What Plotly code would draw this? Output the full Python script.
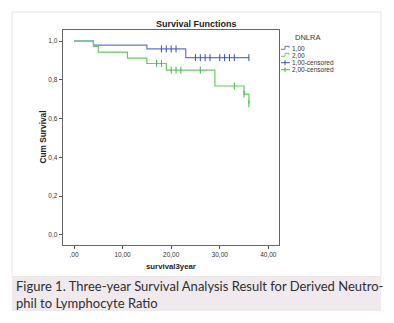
import plotly.graph_objects as go

# ---- data ----
blue_time = [0, 4, 15, 23, 36]
blue_surv = [1.0, 0.979, 0.959, 0.914, 0.914]
blue_cens_time = [18, 19, 20, 21, 25, 26, 27, 28, 30, 31, 32, 33, 36]
blue_cens_surv = [0.959, 0.959, 0.959, 0.959, 0.914, 0.914, 0.914, 0.914,
                  0.914, 0.914, 0.914, 0.914, 0.914]

green_time = [0, 4, 5, 11, 15, 19, 29, 35, 36]
green_surv = [1.0, 0.972, 0.943, 0.912, 0.884, 0.850, 0.768, 0.726, 0.676]
green_cens_time = [17, 18, 20, 21, 22, 26, 33, 35, 36]
green_cens_surv = [0.884, 0.884, 0.850, 0.850, 0.850, 0.850, 0.768, 0.726, 0.676]

x_tickvals = [0, 10, 20, 30, 40]
x_ticktext = [",00", "10,00", "20,00", "30,00", "40,00"]
y_tickvals = [0, 0.2, 0.4, 0.6, 0.8, 1.0]
y_ticktext = ["0,0", "0,2", "0,4", "0,6", "0,8", "1,0"]

legend_title = "DNLRA"
legend_labels = ["1,00", "2,00", "1,00-censored", "2,00-censored"]

W, H = 394, 323
BLUE = "#6275c4"
BLUE_M = "#3a50b0"
GREEN = "#62cc62"
GREEN_M = "#3fb83f"
FONT = "Arial, Liberation Sans, sans-serif"


def px(x):
    return x / W


def py(y):
    return 1 - y / H


fig = go.Figure()
fig.add_trace(go.Scatter(x=blue_time, y=blue_surv, mode="lines", line_shape="hv",
                         line=dict(color=BLUE, width=1.2), showlegend=False))
fig.add_trace(go.Scatter(x=green_time, y=green_surv, mode="lines", line_shape="hv",
                         line=dict(color=GREEN, width=1.2), showlegend=False))
fig.add_trace(go.Scatter(x=blue_cens_time, y=blue_cens_surv, mode="markers",
                         marker=dict(symbol="line-ns", size=5,
                                     line=dict(color=BLUE_M, width=1)),
                         showlegend=False))
fig.add_trace(go.Scatter(x=green_cens_time, y=green_cens_surv, mode="markers",
                         marker=dict(symbol="line-ns", size=5,
                                     line=dict(color=GREEN_M, width=1)),
                         showlegend=False))

shapes = [
    # chart box
    dict(type="rect", xref="paper", yref="paper", x0=px(12), x1=px(381),
         y0=py(276.5), y1=py(12), line=dict(color="#e6e6e6", width=1),
         fillcolor="white", layer="below"),
    # caption box
    dict(type="rect", xref="paper", yref="paper", x0=px(12), x1=px(381),
         y0=py(311), y1=py(276.5), line=dict(width=0),
         fillcolor="#f0eaee", layer="below"),
]

# manual legend
leg_y = [48.3, 55.3, 62.7, 69.7]
leg_cols = [BLUE, GREEN, BLUE_M, GREEN_M]
annotations = [
    dict(text=legend_title, x=px(293), y=py(37.5), xref="paper", yref="paper",
         xanchor="left", yanchor="middle", showarrow=False,
         font=dict(family=FONT, size=7.5, color="#333")),
]
for i, (lab, yy, col) in enumerate(zip(legend_labels, leg_y, leg_cols)):
    if i < 2:
        path = (f"M {px(281)},{py(yy + 1)} L {px(285)},{py(yy + 1)} "
                f"L {px(285)},{py(yy - 2)} L {px(289)},{py(yy - 2)} "
                f"L {px(289)},{py(yy - 0.5)}")
        shapes.append(dict(type="path", xref="paper", yref="paper", path=path,
                           line=dict(color=col, width=1)))
    else:
        shapes.append(dict(type="line", xref="paper", yref="paper",
                           x0=px(281), x1=px(290), y0=py(yy), y1=py(yy),
                           line=dict(color=col, width=1)))
        shapes.append(dict(type="line", xref="paper", yref="paper",
                           x0=px(285), x1=px(285), y0=py(yy - 2.5), y1=py(yy + 2.5),
                           line=dict(color=col, width=1)))
    annotations.append(dict(text=lab, x=px(290), y=py(yy), xref="paper", yref="paper",
                            xanchor="left", yanchor="middle", showarrow=False,
                            font=dict(family=FONT, size=6.5, color="#333")))

annotations += [
    dict(text="<b>Survival Functions</b>", x=px(196), y=py(24), xref="paper",
         yref="paper", xanchor="center", yanchor="middle", showarrow=False,
         font=dict(family=FONT, size=9, color="#222")),
    dict(text="<b>Cum Survival</b>", x=px(42), y=py(137.5), xref="paper",
         yref="paper", xanchor="center", yanchor="middle", showarrow=False,
         textangle=-90, font=dict(family=FONT, size=8.3, color="#222")),
    dict(text="<b>survival3year</b>", x=px(171), y=py(266), xref="paper",
         yref="paper", xanchor="center", yanchor="middle", showarrow=False,
         font=dict(family=FONT, size=7.8, color="#222")),
    dict(text="Figure 1. Three-year Survival Analysis Result for Derived Neutro-"
              "<br>phil to Lymphocyte Ratio",
         x=px(14), y=py(294), xref="paper", yref="paper", xanchor="left",
         yanchor="middle", align="left", showarrow=False,
         font=dict(family="Lato, sans-serif", size=13, color="#2f2f2f")),
]

fig.update_layout(
    width=W, height=H, margin=dict(l=0, r=0, t=0, b=0),
    paper_bgcolor="white", plot_bgcolor="#efefef",
    shapes=shapes, annotations=annotations, showlegend=False,
    xaxis=dict(domain=[px(62.7), px(279.3)], range=[-2.33, 42.26],
               tickvals=x_tickvals, ticktext=x_ticktext, showgrid=False,
               zeroline=False, ticks="outside", ticklen=3, tickcolor="#555",
               showline=True, linecolor="#666", linewidth=1, mirror=True,
               tickfont=dict(family=FONT, size=6.5, color="#333")),
    yaxis=dict(domain=[py(245), py(29.7)], range=[-0.0516, 1.0583],
               tickvals=y_tickvals, ticktext=y_ticktext, showgrid=False,
               zeroline=False, ticks="outside", ticklen=3, tickcolor="#555",
               showline=True, linecolor="#666", linewidth=1, mirror=True,
               tickfont=dict(family=FONT, size=6.5, color="#333")),
)

fig.write_html("out.html")
